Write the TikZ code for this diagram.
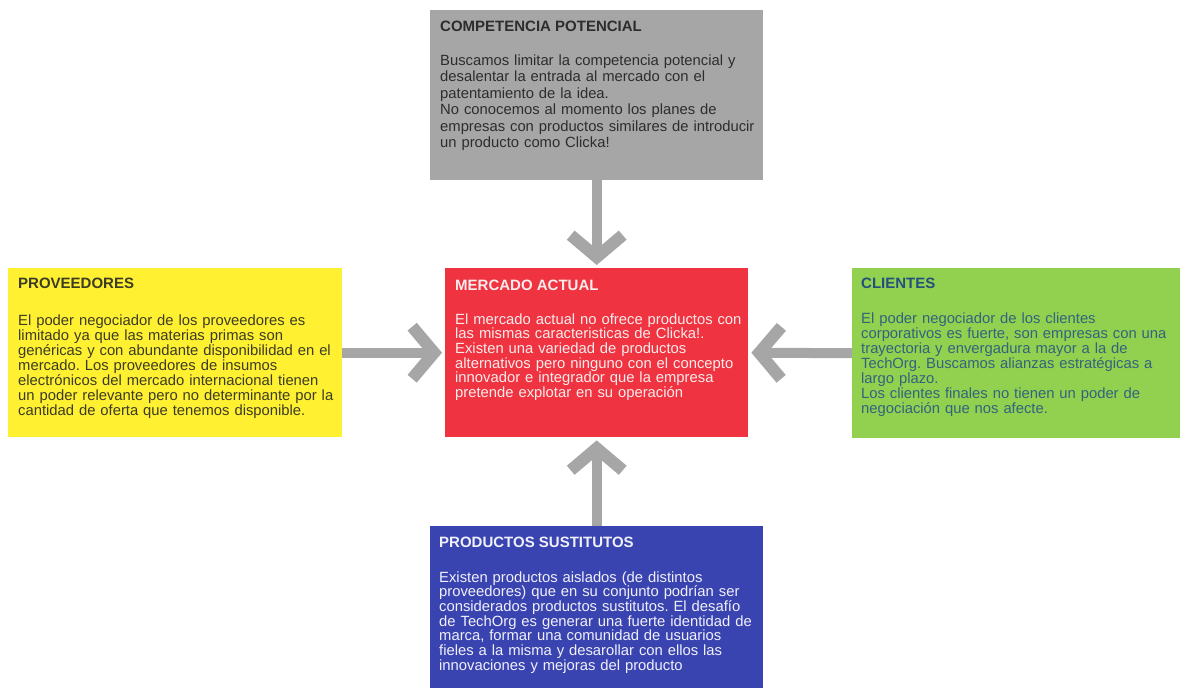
\documentclass[tikz,border=0pt]{standalone}
\usepackage{fontspec}
\setmainfont{Liberation Sans}
\usetikzlibrary{arrows.meta}
\frenchspacing
\definecolor{cgray}{RGB}{166,166,166}
\definecolor{cyellow}{RGB}{255,240,50}
\definecolor{cred}{RGB}{239,51,64}
\definecolor{cgreen}{RGB}{146,208,80}
\definecolor{cblue}{RGB}{58,68,176}
\definecolor{carrow}{RGB}{166,166,166}
\definecolor{tdark}{RGB}{45,45,45}
\definecolor{tyel}{RGB}{60,60,35}
\definecolor{tgreenhead}{RGB}{35,80,125}
\definecolor{tgreen}{RGB}{50,100,125}
\definecolor{tlight}{RGB}{250,236,236}
\definecolor{tlightb}{RGB}{240,240,250}
\tikzset{
  box/.style={draw=none, inner sep=0pt, anchor=north west},
  head/.style={anchor=base west, inner sep=0pt, font=\fontsize{15}{17}\selectfont\bfseries},
  body/.style={anchor=base west, inner sep=0pt, text width=380pt, align=left, font=\fontsize{14.8}{15}\selectfont\frenchspacing},
  force/.style={draw=carrow, line width=10pt, -{Straight Barb[length=22pt, width=52pt, line width=12pt]}}
}
\begin{document}
\begin{tikzpicture}[x=1pt,y=-1pt]
\useasboundingbox (0,0) rectangle (1180,688);
% boxes
\node[box, fill=cgray, minimum width=333pt, minimum height=170pt] (comp) at (430,10) {};
\node[box, fill=cyellow, minimum width=334pt, minimum height=169pt] (prov) at (8,268) {};
\node[box, fill=cred, minimum width=303pt, minimum height=169pt] (merc) at (445,268) {};
\node[box, fill=cgreen, minimum width=328pt, minimum height=170pt] (cli) at (852,268) {};
\node[box, fill=cblue, minimum width=333pt, minimum height=162pt] (prod) at (430,526) {};
% texts
\node[head, text=tdark] (compH) at (440,31) {COMPETENCIA POTENCIAL};
\node[body, text=tdark, font=\fontsize{14.8}{16.5}\selectfont\frenchspacing] (compB) at (440,65) {Buscamos limitar la competencia potencial y\\desalentar la entrada al mercado con el\\patentamiento de la idea.\\No conocemos al momento los planes de\\empresas con productos similares de introducir\\un producto como Clicka!};
\node[head, text=tyel] (provH) at (18,288) {PROVEEDORES};
\node[body, text=tyel] (provB) at (18,325) {El poder negociador de los proveedores es\\limitado ya que las materias primas son\\genéricas y con abundante disponibilidad en el\\mercado. Los proveedores de insumos\\electrónicos del mercado internacional tienen\\un poder relevante pero no determinante por la\\cantidad de oferta que tenemos disponible.};
\node[head, text=tlight] (mercH) at (455,290) {MERCADO ACTUAL};
\node[body, text=tlight, font=\fontsize{14.8}{14.7}\selectfont\frenchspacing] (mercB) at (455,324) {El mercado actual no ofrece productos con\\las mismas caracteristicas de Clicka!.\\Existen una variedad de productos\\alternativos pero ninguno con el concepto\\innovador e integrador que la empresa\\pretende explotar en su operación};
\node[head, text=tgreenhead] (cliH) at (861,288) {CLIENTES};
\node[body, text=tgreen] (cliB) at (861,323) {El poder negociador de los clientes\\corporativos es fuerte, son empresas con una\\trayectoria y envergadura mayor a la de\\TechOrg. Buscamos alianzas estratégicas a\\largo plazo.\\Los clientes finales no tienen un poder de\\negociación que nos afecte.};
\node[head, text=tlightb] (prodH) at (439,547) {PRODUCTOS SUSTITUTOS};
\node[body, text=tlightb, font=\fontsize{14.8}{14.7}\selectfont\frenchspacing] (prodB) at (439,582) {Existen productos aislados (de distintos\\proveedores) que en su conjunto podrían ser\\considerados productos sustitutos. El desafío\\de TechOrg es generar una fuerte identidad de\\marca, formar una comunidad de usuarios\\fieles a la misma y desarollar con ellos las\\innovaciones y mejoras del producto};
% arrows
\draw[force, shorten >=3pt] (comp.south) -- (merc.north);
\draw[force, shorten >=3pt] (prov.east) -- (merc.west);
\draw[force, shorten >=3pt] (cli.west) -- (merc.east);
\draw[force, shorten >=3pt] (prod.north) -- (merc.south);
\end{tikzpicture}
\end{document}
